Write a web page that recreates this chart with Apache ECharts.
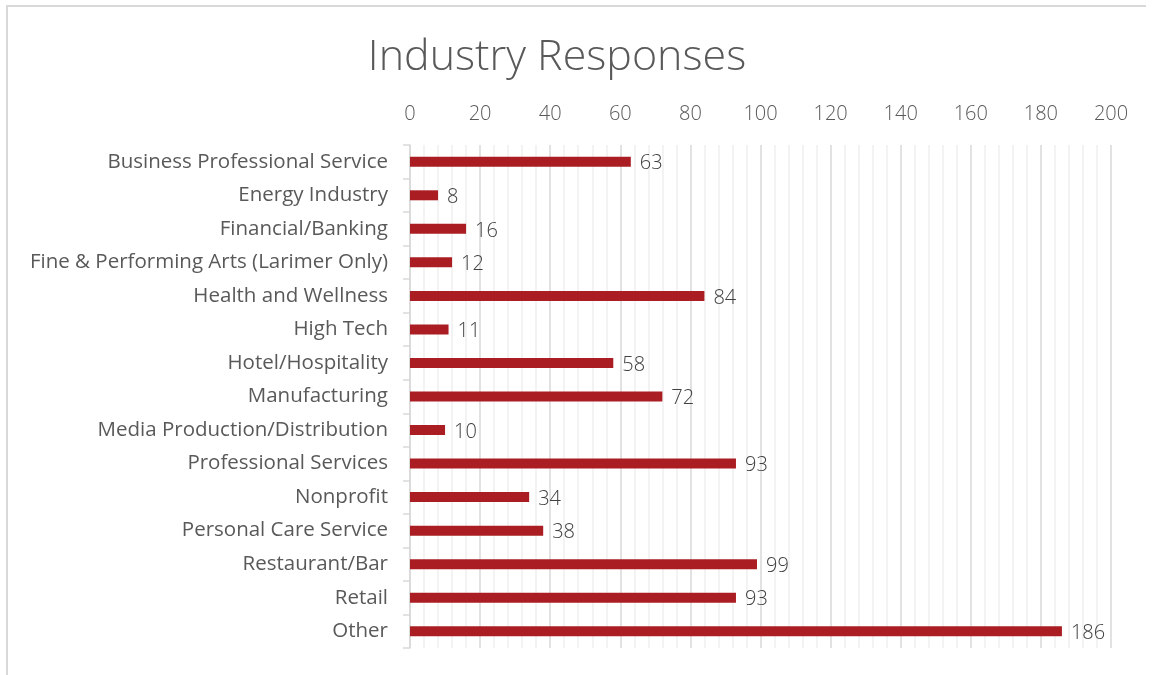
<!DOCTYPE html>
<html>
<head>
<meta charset="utf-8">
<script src="https://cdn.jsdelivr.net/npm/echarts@6/dist/echarts.min.js"></script>
<style>
html, body { margin: 0; padding: 0; background: #fff; }
#chart { width: 1154px; height: 675px; }
</style>
</head>
<body>
<div id="chart"></div>
<script>
const industries = [
    'Business Professional Service', 'Energy Industry', 'Financial/Banking',
    'Fine & Performing Arts (Larimer Only)', 'Health and Wellness', 'High Tech',
    'Hotel/Hospitality', 'Manufacturing', 'Media Production/Distribution',
    'Professional Services', 'Nonprofit', 'Personal Care Service',
    'Restaurant/Bar', 'Retail', 'Other'
]
const responses = [63, 8, 16, 12, 84, 11, 58, 72, 10, 93, 34, 38, 99, 93, 186]

const font = '"Open Sans", Lato, sans-serif'
const chart = echarts.init(document.getElementById('chart'))

chart.setOption({
    backgroundColor: '#fff',
    animation: false,
    title: {
        text: 'Industry Responses',
        left: 552,
        top: 31,
        textAlign: 'center',
        textStyle: { color: '#595959', fontSize: 43, fontWeight: 300, fontFamily: font }
    },
    grid: { left: 410, right: 43, top: 145, bottom: 27 },
    xAxis: {
        type: 'value',
        position: 'top',
        min: 0,
        max: 200,
        interval: 20,
        axisLine: { show: false },
        axisTick: { show: false },
        axisLabel: { color: '#595959', fontSize: 20, fontWeight: 300, fontFamily: font, margin: 21 },
        splitLine: { show: true, lineStyle: { color: '#d9d9d9', width: 1.5 } },
        minorTick: { show: false, splitNumber: 5 },
        minorSplitLine: { show: true, lineStyle: { color: '#efefef', width: 1.5 } }
    },
    yAxis: {
        type: 'category',
        inverse: true,
        data: industries,
        axisLine: { lineStyle: { color: '#d9d9d9', width: 1.5 } },
        axisTick: { show: true, length: 7, lineStyle: { color: '#d9d9d9', width: 1.5 } },
        axisLabel: { color: '#595959', fontSize: 20.5, fontFamily: font, margin: 22, padding: [2, 0, 0, 0] }
    },
    series: [{
        type: 'bar',
        data: responses,
        barWidth: 10,
        itemStyle: { color: '#aa1e23' },
        label: {
            show: true,
            position: 'right',
            distance: 9,
            color: '#404040',
            fontSize: 20,
            fontWeight: 300,
            fontFamily: font,
            offset: [0, 2]
        }
    }],
    graphic: [{
        type: 'polyline',
        shape: { points: [[7, 675], [7, 6], [1146, 6]] },
        style: { stroke: '#d9d9d9', lineWidth: 2, fill: null },
        silent: true
    }]
})
</script>
</body>
</html>
